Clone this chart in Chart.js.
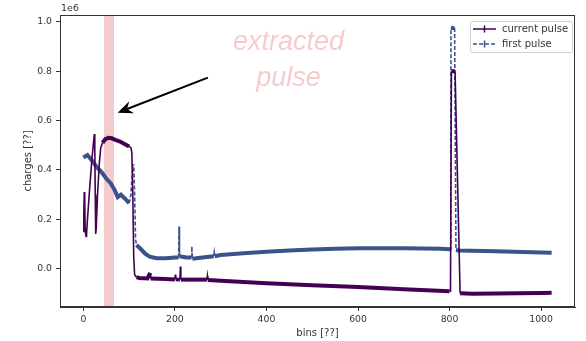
<!DOCTYPE html>
<html>
<head>
<meta charset="utf-8">
<script src="https://cdn.jsdelivr.net/npm/chart.js@4.4.1/dist/chart.umd.min.js"></script>
<style>
  html, body { margin: 0; padding: 0; background: #fff; }
  #wrap { width: 586px; height: 341px; }
</style>
</head>
<body>
<div id="wrap"><canvas id="pulseChart" width="586" height="341"></canvas></div>
<script>
// dati (valori in unita' di 1e6)
var binsCurrent = [0, 1, 2, 3, 4, 6, 7, 9, 14, 19, 24, 25, 26, 27, 28, 31, 35, 38, 42, 48, 55, 62, 70, 80, 90, 100, 104, 106, 108, 110, 112, 116, 122, 140, 146, 147, 180, 200, 201, 202, 211, 212, 213, 240, 270, 271, 272, 300, 400, 500, 600, 700, 800, 802, 804, 812, 823, 850, 900, 1000, 1023];
var currentPulse = [0.15, 0.22, 0.31, 0.28, 0.15, 0.13, 0.14, 0.20, 0.33, 0.45, 0.545, 0.48, 0.30, 0.14, 0.16, 0.30, 0.43, 0.49, 0.51, 0.525, 0.53, 0.528, 0.522, 0.515, 0.505, 0.495, 0.49, 0.47, 0.30, 0.05, -0.025, -0.035, -0.038, -0.04, -0.018, -0.04, -0.042, -0.044, -0.025, -0.044, -0.045, 0.008, -0.045, -0.045, -0.045, -0.03, -0.047, -0.05, -0.06, -0.068, -0.075, -0.084, -0.092, -0.092, 0.80, 0.80, -0.10, -0.102, -0.101, -0.099, -0.098];

var binsFirst = [0, 9, 20, 30, 40, 50, 60, 68, 75, 82, 90, 100, 104, 108, 110, 112, 114, 116, 125, 135, 145, 160, 180, 200, 208, 209, 210, 225, 236, 237, 238, 260, 285, 286, 287, 300, 350, 400, 450, 500, 550, 600, 700, 780, 801, 803, 811, 814, 820, 900, 1000, 1023];
var firstPulse = [0.45, 0.46, 0.435, 0.41, 0.39, 0.365, 0.345, 0.32, 0.29, 0.30, 0.285, 0.265, 0.30, 0.42, 0.42, 0.30, 0.12, 0.095, 0.08, 0.06, 0.048, 0.042, 0.042, 0.045, 0.045, 0.17, 0.05, 0.045, 0.045, 0.09, 0.04, 0.045, 0.05, 0.065, 0.05, 0.055, 0.062, 0.068, 0.073, 0.077, 0.080, 0.082, 0.082, 0.080, 0.078, 0.975, 0.975, 0.075, 0.073, 0.070, 0.065, 0.064];

var xTicks = [0, 200, 400, 600, 800, 1000];
var yTicks = [0.0, 0.2, 0.4, 0.6, 0.8, 1.0];

var seriesNames = ['current pulse', 'first pulse'];
var extractedRange = [45, 67];
var noteText = ['extracted', 'pulse'];

var colorCurrent = '#440154';
var colorFirst = '#3b528b';
var axisColor = '#333333';
var fontFamily = '"DejaVu Sans", sans-serif';

function toPoints(bins, values) {
  return bins.map(function (b, i) { return { x: b, y: values[i] }; });
}

// tratti ripidi o brevissimi: linea sottile (il rumore rende spessi solo i tratti piatti)
function isSteep(ctx) {
  var dx = Math.abs(ctx.p1.x - ctx.p0.x);
  var dy = Math.abs(ctx.p1.y - ctx.p0.y);
  return dx < 2 || dy > 2.5 * dx;
}

// fascia, freccia e testo
var annotationPlugin = {
  id: 'annotations',
  beforeDatasetsDraw: function (chart) {
    var ctx = chart.ctx, a = chart.chartArea;
    var xs = chart.scales.x, ys = chart.scales.y;
    ctx.save();
    ctx.fillStyle = 'rgba(220, 80, 80, 0.3)';
    var x0 = xs.getPixelForValue(extractedRange[0]);
    var x1 = xs.getPixelForValue(extractedRange[1]);
    ctx.fillRect(x0, a.top, x1 - x0, a.bottom - a.top);

    ctx.fillStyle = 'rgba(235, 130, 130, 0.42)';
    ctx.font = 'italic 27px "Liberation Sans", sans-serif';
    ctx.textAlign = 'center';
    ctx.textBaseline = 'middle';
    ctx.fillText(noteText[0], xs.getPixelForValue(448), ys.getPixelForValue(0.918));
    ctx.fillText(noteText[1], xs.getPixelForValue(448), ys.getPixelForValue(0.772));
    ctx.restore();
  },
  afterDatasetsDraw: function (chart) {
    var ctx = chart.ctx, a = chart.chartArea;
    var xs = chart.scales.x, ys = chart.scales.y;
    ctx.save();
    // freccia
    var tx = xs.getPixelForValue(272), ty = ys.getPixelForValue(0.774);
    var hx = xs.getPixelForValue(75), hy = ys.getPixelForValue(0.632);
    var ang = Math.atan2(hy - ty, hx - tx);
    ctx.strokeStyle = '#000';
    ctx.fillStyle = '#000';
    ctx.lineWidth = 2;
    ctx.beginPath();
    ctx.moveTo(tx, ty);
    ctx.lineTo(hx - 8 * Math.cos(ang), hy - 8 * Math.sin(ang));
    ctx.stroke();
    var len = 15, wid = 6.5;
    var bx = hx - len * Math.cos(ang), by = hy - len * Math.sin(ang);
    var nx = -Math.sin(ang), ny = Math.cos(ang);
    ctx.beginPath();
    ctx.moveTo(hx, hy);
    ctx.lineTo(bx + nx * wid, by + ny * wid);
    ctx.lineTo(hx - 10 * Math.cos(ang), hy - 10 * Math.sin(ang));
    ctx.lineTo(bx - nx * wid, by - ny * wid);
    ctx.closePath();
    ctx.fill();

    // cornice degli assi
    ctx.strokeStyle = axisColor;
    ctx.lineWidth = 1;
    ctx.strokeRect(a.left + 0.5, a.top + 0.5, a.right - a.left - 1, a.bottom - a.top - 1);

    // etichetta di scala
    ctx.fillStyle = axisColor;
    ctx.font = '9.5px ' + fontFamily;
    ctx.textAlign = 'left';
    ctx.textBaseline = 'bottom';
    ctx.fillText('1e6', a.left + 1, a.top - 2);

    // legenda
    var lx = 470, ly = 21, lw = 102, lh = 31;
    ctx.fillStyle = 'rgba(255,255,255,0.85)';
    ctx.strokeStyle = '#d0d0d0';
    ctx.beginPath();
    ctx.roundRect(lx + 0.5, ly + 0.5, lw, lh, 2);
    ctx.fill();
    ctx.stroke();
    var colors = [colorCurrent, colorFirst];
    var dashes = [[], [4, 2]];
    ctx.font = '10px ' + fontFamily;
    for (var i = 0; i < 2; i++) {
      var yy = ly + 8 + i * 15;
      ctx.strokeStyle = colors[i];
      ctx.lineWidth = 1.5;
      ctx.setLineDash(dashes[i]);
      ctx.beginPath();
      ctx.moveTo(lx + 3, yy);
      ctx.lineTo(lx + 26, yy);
      ctx.stroke();
      ctx.setLineDash([]);
      ctx.beginPath();
      ctx.moveTo(lx + 14.5, yy - 3.5);
      ctx.lineTo(lx + 14.5, yy + 3.5);
      ctx.stroke();
      ctx.fillStyle = axisColor;
      ctx.textBaseline = 'middle';
      ctx.fillText(seriesNames[i], lx + 32, yy);
    }
    ctx.restore();
  }
};

var chartCtx = document.getElementById('pulseChart').getContext('2d');
var pulseChart = new Chart(chartCtx, {
  type: 'line',
  data: {
    datasets: [{
      label: seriesNames[0],
      data: toPoints(binsCurrent, currentPulse),
      borderColor: colorCurrent,
      borderWidth: 4,
      pointRadius: 0,
      segment: {
        borderWidth: function (ctx) { return isSteep(ctx) ? 1.6 : 4; }
      }
    }, {
      label: seriesNames[1],
      data: toPoints(binsFirst, firstPulse),
      borderColor: colorFirst,
      borderWidth: 4,
      pointRadius: 0,
      segment: {
        borderWidth: function (ctx) { return isSteep(ctx) ? 1.6 : 4; },
        borderDash: function (ctx) { return isSteep(ctx) ? [4, 2] : undefined; }
      }
    }]
  },
  options: {
    responsive: false,
    animation: false,
    devicePixelRatio: 1,
    layout: { padding: { top: 15, right: 11, left: 0, bottom: 0 } },
    plugins: { legend: { display: false }, tooltip: { enabled: false } },
    scales: {
      x: {
        type: 'linear',
        min: -51,
        max: 1074,
        afterFit: function (scale) { scale.height = 34; },
        afterBuildTicks: function (scale) {
          scale.ticks = xTicks.map(function (v) { return { value: v }; });
        },
        grid: { display: true, drawOnChartArea: false, tickLength: 4, color: axisColor },
        border: { display: true, color: axisColor },
        ticks: {
          color: axisColor, font: { size: 9.3, family: fontFamily }, padding: 3, maxRotation: 0,
          callback: function (v) { return String(v); }
        },
        title: { display: true, text: 'bins [??]', color: axisColor, font: { size: 10, family: fontFamily }, padding: { top: 0, bottom: 2 } }
      },
      y: {
        type: 'linear',
        min: -0.156,
        max: 1.028,
        afterFit: function (scale) { scale.width = 60; },
        afterBuildTicks: function (scale) {
          scale.ticks = yTicks.map(function (v) { return { value: v }; });
        },
        grid: { display: true, drawOnChartArea: false, tickLength: 4, color: axisColor },
        border: { display: true, color: axisColor },
        ticks: {
          color: axisColor, font: { size: 9.3, family: fontFamily }, padding: 4,
          callback: function (v) { return Number(v).toFixed(1); }
        },
        title: { display: true, text: 'charges [??]', color: axisColor, font: { size: 10, family: fontFamily }, padding: { top: 22, bottom: 0 } }
      }
    }
  },
  plugins: [annotationPlugin]
});
</script>
</body>
</html>
